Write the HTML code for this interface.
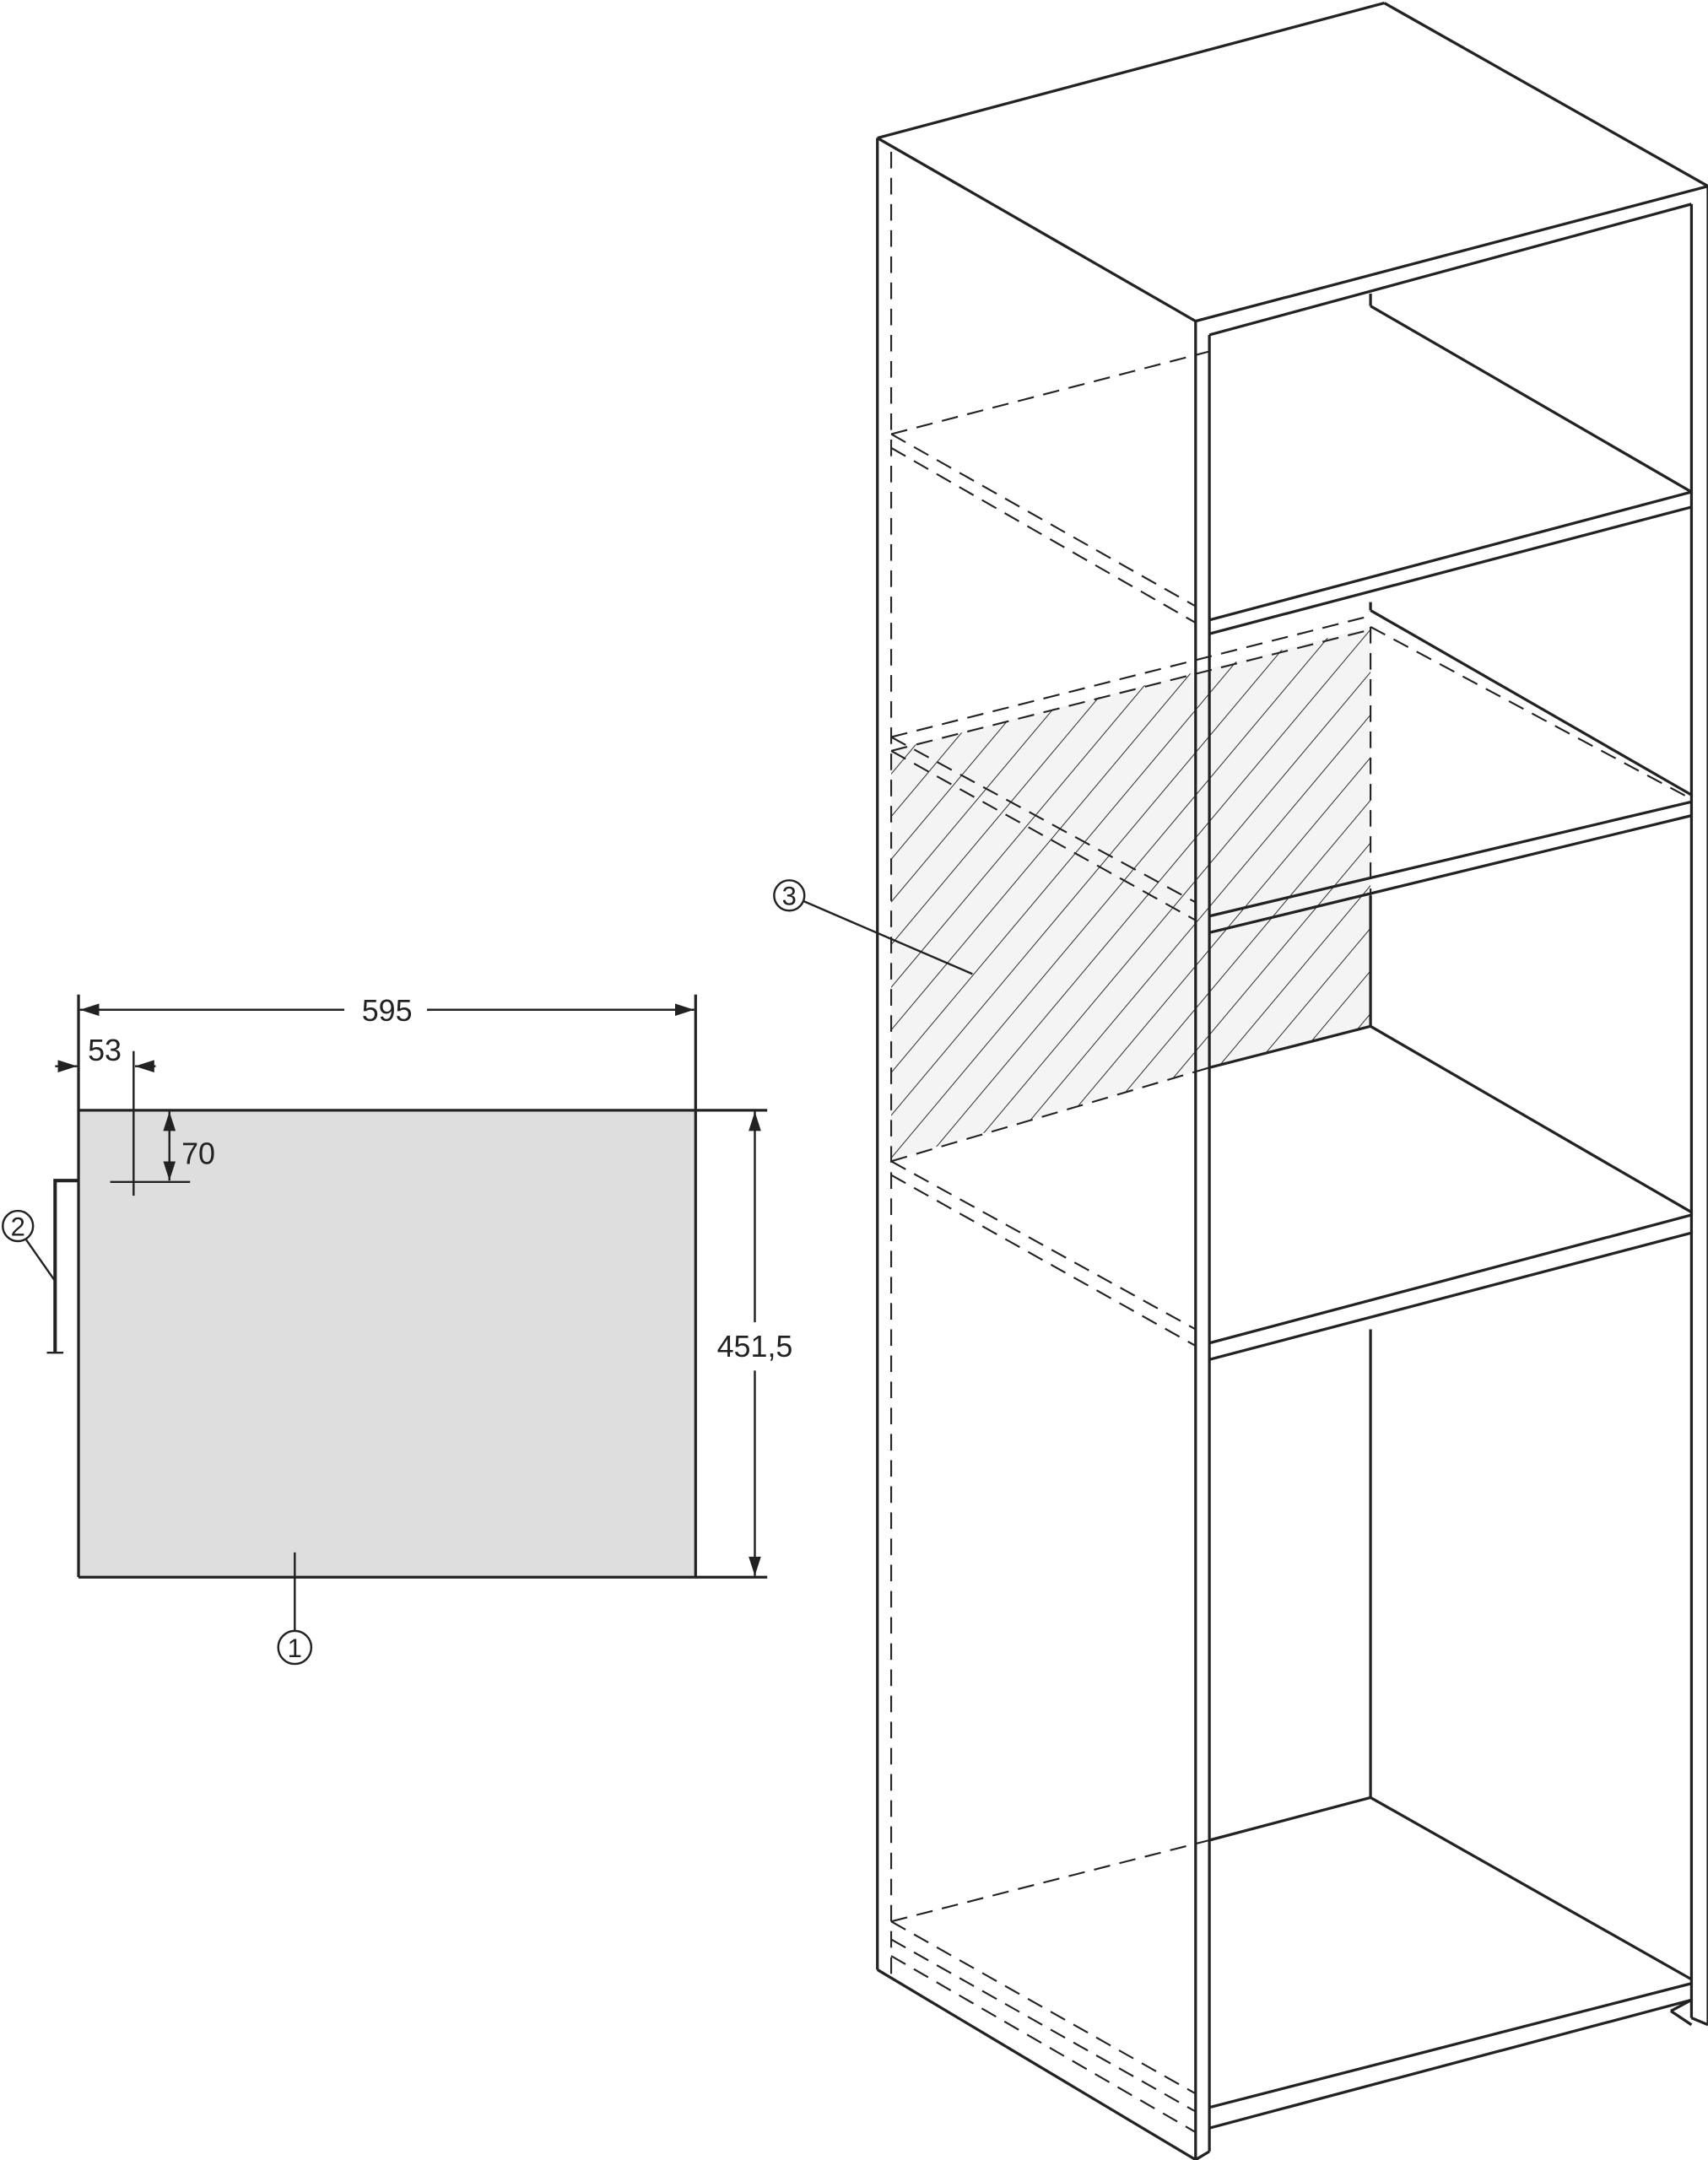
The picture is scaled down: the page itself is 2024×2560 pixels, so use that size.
<!DOCTYPE html>
<html><head><style>html,body{margin:0;padding:0;background:#fff}svg{display:block}</style></head>
<body>
<svg width="2024" height="2560" viewBox="0 0 1240 1568" xmlns="http://www.w3.org/2000/svg" font-family="Liberation Sans, sans-serif">
<defs>
<pattern id="h" patternUnits="userSpaceOnUse" width="26" height="28" patternTransform="skewX(-40)">
<rect width="26" height="28" fill="#f4f4f4"/><line x1="0" y1="0" x2="0" y2="28" stroke="#222" stroke-width="1.5"/>
</pattern>
<marker id="a" markerWidth="14" markerHeight="9" refX="14" refY="4.5" orient="auto" markerUnits="userSpaceOnUse"><path d="M0,0 L14,4.5 L0,9 z" fill="#222"/></marker>
</defs>
<g stroke="#222" fill="none" stroke-width="2">
<rect x="57" y="806" width="448" height="339" fill="#dedede" stroke="none"/>
<line x1="57" y1="806" x2="557" y2="806"/>
<line x1="57" y1="1145" x2="557" y2="1145"/>
<line x1="57" y1="722" x2="57" y2="1145"/>
<line x1="505" y1="722" x2="505" y2="1145"/>
<line x1="250" y1="733" x2="58" y2="733" stroke-width="1.5" marker-end="url(#a)"/>
<line x1="310" y1="733" x2="504" y2="733" stroke-width="1.5" marker-end="url(#a)"/>
<line x1="548" y1="960" x2="548" y2="807" stroke-width="1.5" marker-end="url(#a)"/>
<line x1="548" y1="995" x2="548" y2="1144" stroke-width="1.5" marker-end="url(#a)"/>
<line x1="40" y1="774" x2="56" y2="774" stroke-width="1.5" marker-end="url(#a)"/>
<line x1="113" y1="774" x2="98" y2="774" stroke-width="1.5" marker-end="url(#a)"/>
<line x1="97" y1="763" x2="97" y2="868" stroke-width="1.5"/>
<line x1="123" y1="830" x2="123" y2="807" stroke-width="1.5" marker-end="url(#a)"/>
<line x1="123" y1="830" x2="123" y2="857" stroke-width="1.5" marker-end="url(#a)"/>
<line x1="80" y1="858" x2="138" y2="858" stroke-width="1.5"/>
<path d="M40,982 L40,857 L57,857" stroke-width="2.5"/>
<line x1="34" y1="982" x2="46" y2="982" stroke-width="1.5"/>
<line x1="19" y1="900" x2="40" y2="930" stroke-width="1.5"/>
<circle cx="13" cy="890" r="11" stroke-width="1.5" fill="#fff"/>
<line x1="214" y1="1127" x2="214" y2="1184" stroke-width="1.5"/>
<circle cx="214" cy="1196" r="12" stroke-width="1.5" fill="#fff"/>
<polygon points="647,545 995,455 995,745 878,775 647,842" fill="url(#h)" stroke="none"/>
<line x1="637" y1="100" x2="1005" y2="2"/>
<line x1="1005" y1="2" x2="1240" y2="135"/>
<line x1="637" y1="100" x2="868" y2="233"/>
<line x1="868" y1="233" x2="1240" y2="135"/>
<line x1="878" y1="243" x2="1228" y2="148"/>
<line x1="637" y1="100" x2="637" y2="1430"/>
<line x1="868" y1="233" x2="868" y2="1568"/>
<line x1="878" y1="243" x2="878" y2="1562"/>
<line x1="1240" y1="135" x2="1240" y2="1470"/>
<line x1="1228" y1="148" x2="1228" y2="1465"/>
<line x1="637" y1="1430" x2="868" y2="1568"/>
<line x1="868" y1="1568" x2="878" y2="1562"/>
<line x1="1228" y1="1465" x2="1240" y2="1470"/>
<line x1="1228" y1="1452" x2="1213" y2="1460"/>
<line x1="1213" y1="1460" x2="1228" y2="1470"/>
<line x1="995" y1="213" x2="995" y2="222"/>
<line x1="995" y1="437" x2="995" y2="443"/>
<line x1="995" y1="650" x2="995" y2="745"/>
<line x1="995" y1="965" x2="995" y2="1305"/>
<line x1="995" y1="222" x2="1228" y2="357"/>
<line x1="878" y1="450" x2="1228" y2="357"/>
<line x1="878" y1="460" x2="1228" y2="368"/>
<line x1="995" y1="443" x2="1228" y2="577"/>
<line x1="878" y1="665" x2="1228" y2="582"/>
<line x1="878" y1="677" x2="1228" y2="592"/>
<line x1="995" y1="745" x2="1228" y2="880"/>
<line x1="878" y1="975" x2="1228" y2="882"/>
<line x1="878" y1="987" x2="1228" y2="895"/>
<line x1="995" y1="1305" x2="1228" y2="1437"/>
<line x1="878" y1="1530" x2="1228" y2="1440"/>
<line x1="878" y1="1545" x2="1228" y2="1452"/>
<line x1="878" y1="1336" x2="995" y2="1305"/>
<line x1="878" y1="775" x2="995" y2="745"/>
</g>
<g stroke="#222" fill="none" stroke-width="1.3" stroke-dasharray="12,7">
<line x1="647" y1="110" x2="647" y2="1440"/>
<line x1="647" y1="315" x2="878" y2="255"/>
<line x1="647" y1="315" x2="868" y2="440"/>
<line x1="647" y1="325" x2="868" y2="452"/>
<line x1="647" y1="535" x2="995" y2="447"/>
<line x1="647" y1="545" x2="995" y2="457"/>
<line x1="647" y1="535" x2="868" y2="655"/>
<line x1="647" y1="545" x2="868" y2="668"/>
<line x1="995" y1="455" x2="1228" y2="580"/>
<line x1="995" y1="455" x2="995" y2="650"/>
<line x1="647" y1="843" x2="878" y2="775"/>
<line x1="647" y1="843" x2="868" y2="965"/>
<line x1="647" y1="853" x2="868" y2="977"/>
<line x1="647" y1="1395" x2="878" y2="1336"/>
<line x1="647" y1="1395" x2="868" y2="1520"/>
<line x1="647" y1="1408" x2="868" y2="1533"/>
<line x1="647" y1="1420" x2="868" y2="1548"/>
</g>
<g stroke="#222" stroke-width="1.5">
<line x1="583" y1="654" x2="706" y2="707"/>
<circle cx="573" cy="650" r="11" fill="#fff"/>
</g>
<g fill="#222" font-size="22" text-anchor="middle">
<rect x="252" y="720" width="56" height="26" fill="#fff"/>
<text x="281" y="741">595</text>
<text x="76" y="770">53</text>
<text x="144" y="845">70</text>
<rect x="513" y="960" width="70" height="34" fill="#fff"/>
<text x="548" y="985">451,5</text>
<text x="13" y="897" font-size="19">2</text>
<text x="214" y="1203" font-size="19">1</text>
<text x="573" y="657" font-size="19">3</text>
</g>
</svg>
</body></html>
